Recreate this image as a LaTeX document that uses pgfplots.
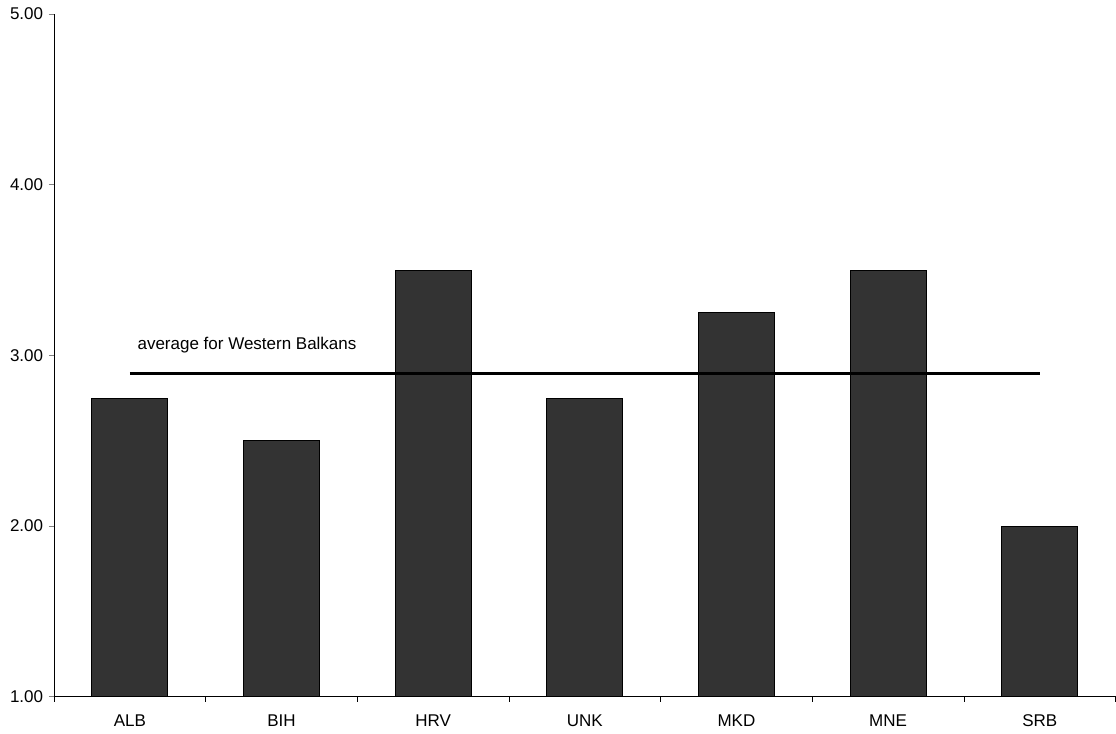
\documentclass[border=0pt]{standalone}
\usepackage{pgfplots}
\pgfplotsset{compat=1.18}
\usepackage{fontspec}
\setmainfont{Liberation Sans}
\begin{document}
\fontsize{17bp}{20bp}\selectfont
\begin{tikzpicture}
\begin{axis}[
  scale only axis,
  width=1062bp, height=683bp,
  xmin=-0.5, xmax=6.5,
  ymin=1, ymax=5,
  axis lines*=left,
  axis line style={line width=0.8bp},
  xtick={0,...,6},
  xticklabels={ALB,BIH,HRV,UNK,MKD,MNE,SRB},
  minor xtick={-0.5,0.5,...,6.5},
  ytick={1,2,3,4,5},
  tick align=outside,
  x tick style={draw=none},
  minor x tick style={draw=black, line width=0.8bp},
  minor tick length=5bp,
  y tick style={line width=0.8bp},
  major tick length=5bp,
  yticklabel style={/pgf/number format/fixed, /pgf/number format/fixed zerofill, /pgf/number format/precision=2, xshift=0bp},
  /pgf/number format/assume math mode=true,
  ticklabel style={font=\fontsize{17bp}{20bp}\selectfont},
  xticklabel style={yshift=-7bp},
  ybar, bar width=0.5,
]
\addplot[fill=black!80, draw=black, line width=0.8bp] coordinates {
  (0,2.75) (1,2.5) (2,3.5) (3,2.75) (4,3.25) (5,3.5) (6,2.0)
};
\addplot[sharp plot, black, line width=2.6bp] coordinates {(0,2.893) (6,2.893)};
\node[anchor=west, inner sep=0pt, font=\fontsize{17bp}{20bp}\selectfont] at (axis cs:0.05,3.06) {average for Western Balkans};
\end{axis}
\path ([shift={(-54bp,-37bp)}]current axis.south west) rectangle ([shift={(0bp,14bp)}]current axis.north east);
\end{tikzpicture}
\end{document}
